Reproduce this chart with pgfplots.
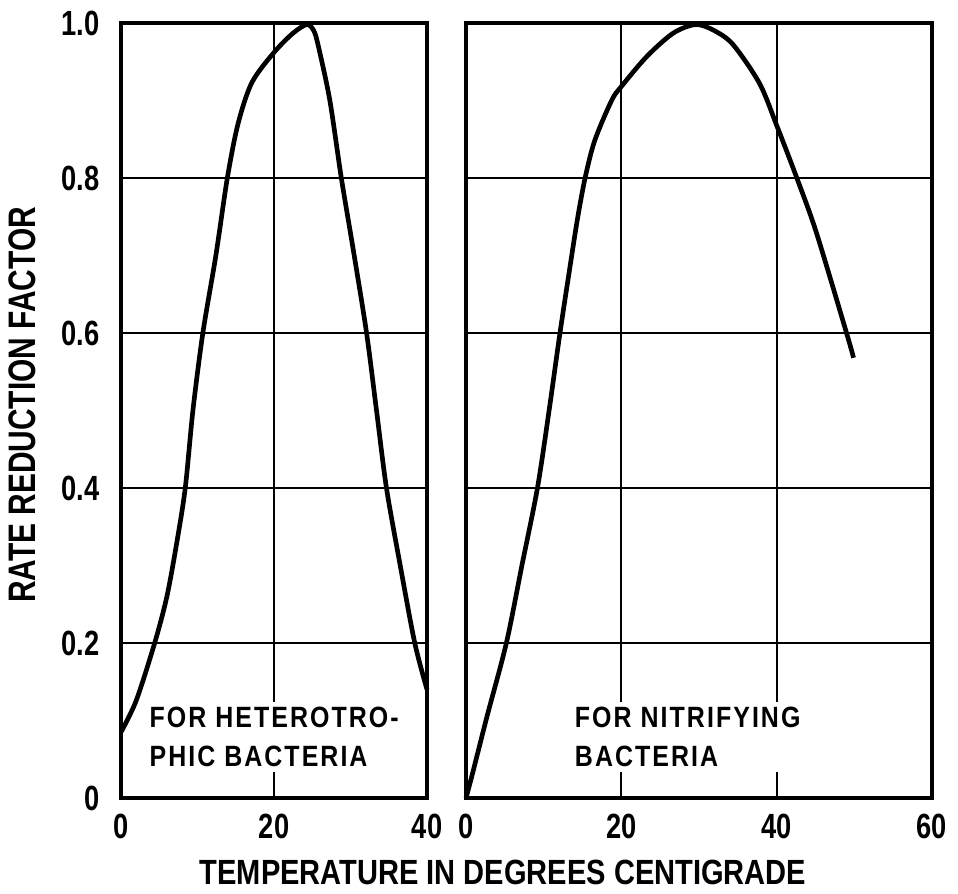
\documentclass[border=0pt]{standalone}
\usepackage{fontspec}
\setmainfont{Liberation Sans}[FakeStretch=0.78]
\newfontfamily\notefont{Liberation Sans}[FakeStretch=0.85, LetterSpace=7]
\newfontfamily\labelfont{Liberation Sans}[FakeStretch=0.83]
\usepackage{pgfplots}
\pgfplotsset{compat=1.18}

\pgfplotsset{
  panel/.style={
    scale only axis,
    height=232.5pt,
    ymin=0, ymax=1,
    ytick={0,0.2,0.4,0.6,0.8,1.0},
    grid=major,
    major grid style={black, line width=0.55pt},
    major tick length=0pt,
    axis line style={black, line width=1pt},
    ticklabel style={font=\bfseries\fontsize{10.5}{12}\selectfont},
    /pgf/number format/assume math mode=true,
    xticklabel style={inner sep=0pt, yshift=-4.5pt},
    clip=false,
  },
  curve/.style={black, line width=1.4pt, smooth, tension=0.5, no marks},
}
\tikzset{
  note/.style={font=\notefont\bfseries\fontsize{8.8}{11.7}\selectfont, align=left,
    fill=white, inner sep=1.5pt, anchor=north west},
}

\begin{document}
\begin{tikzpicture}[x=0.3pt,y=0.3pt]
\useasboundingbox (0,0) rectangle (958,894);

% left panel: heterotrophic bacteria
\begin{axis}[panel,
  at={(36.3pt,28.8pt)}, anchor=south west,
  width=91.8pt,
  xmin=0, xmax=40,
  xtick={0,20,40},
  xticklabels={0,20,40},
  yticklabels={0,0.2,0.4,0.6,0.8,1.0},
  yticklabel style={xshift=-3pt},
]
\node[note] at (axis cs:3.0,0.125) {FOR HETEROTRO-\\PHIC BACTERIA};
\addplot[curve] coordinates {
  (0,0.085) (2,0.126) (4.4,0.2) (6,0.26) (7.3,0.33) (8.4,0.4)
  (9.4,0.5) (10.7,0.6) (12.4,0.7) (13.9,0.8) (15.3,0.87) (17.1,0.923)
  (20,0.962) (22.5,0.987) (24.3,0.998) (25.2,0.99) (25.8,0.97)
  (27.3,0.9) (28.8,0.8) (30.4,0.705) (32.1,0.6) (33.4,0.5)
  (34.7,0.4) (36.5,0.3) (38.4,0.2) (40,0.14)
};
\end{axis}

% right panel: nitrifying bacteria
\begin{axis}[panel,
  at={(139.8pt,28.8pt)}, anchor=south west,
  width=139.8pt,
  xmin=0, xmax=60,
  xtick={0,20,40,60},
  xticklabels={0,20,40,60},
  yticklabels={},
]
\node[note] at (axis cs:13.3,0.125) {FOR NITRIFYING\\BACTERIA};
\addplot[curve] coordinates {
  (0,0) (0.8,0.03) (2.7,0.105) (5.2,0.2) (7.2,0.3) (9.2,0.4)
  (10.7,0.5) (12.1,0.6) (13.4,0.686) (14.4,0.75) (15.4,0.803)
  (16.6,0.849) (18.75,0.9) (20,0.918) (23.3,0.957) (26.7,0.987)
  (29.6,0.998) (32,0.99) (34.4,0.972) (37.8,0.922) (40,0.868)
  (42.6,0.8) (45.1,0.73) (49,0.6) (49.9,0.568)
};
\end{axis}

\node[rotate=90, font=\bfseries\fontsize{11.5}{13}\selectfont] at (22,489) {RATE REDUCTION FACTOR};
\node[anchor=base, font=\labelfont\bfseries\fontsize{10.5}{12}\selectfont] at (503,9) {TEMPERATURE IN DEGREES CENTIGRADE};
\end{tikzpicture}
\end{document}
